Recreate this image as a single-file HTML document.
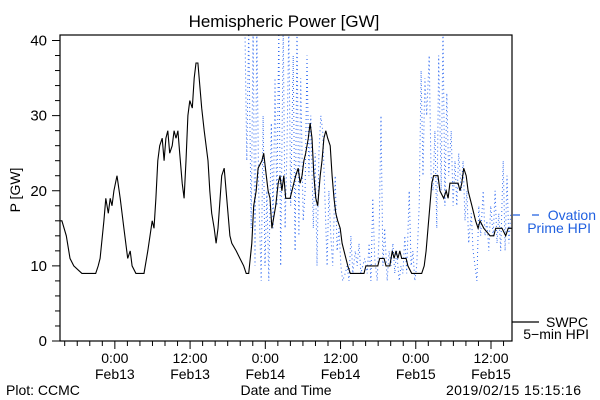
<!DOCTYPE html>
<html><head><meta charset="utf-8"><style>
body{margin:0;background:#fff}
svg{display:block;font-family:"Liberation Sans","DejaVu Sans",sans-serif}
</style></head><body>
<svg id="chart" width="600" height="400" viewBox="0 0 600 400">
<defs><clipPath id="clip"><rect x="60" y="35" width="452" height="306"/></clipPath></defs>
<rect width="600" height="400" fill="#fff"/>
<text x="284" y="27" font-size="17" text-anchor="middle">Hemispheric Power [GW]</text>
<text transform="translate(20,190) rotate(-90)" font-size="14" text-anchor="middle">P [GW]</text>
<text x="286" y="395" font-size="14" text-anchor="middle">Date and Time</text>
<text x="6" y="395" font-size="14">Plot: CCMC</text>
<text x="581" y="395" font-size="14" text-anchor="end" textLength="135">2019/02/15 15:15:16</text>
<g id="axes"></g>
<g id="series" clip-path="url(#clip)"></g>
<rect x="60" y="35" width="452" height="306" fill="none" stroke="#000" stroke-width="1.2"/>
<g>
<line x1="513" y1="215" x2="539" y2="215" stroke="#2060e0" stroke-dasharray="7,12" stroke-width="1.2"/>
<text x="596" y="220" font-size="14" fill="#2060e0" text-anchor="end">Ovation</text>
<text x="591" y="233" font-size="14" fill="#2060e0" text-anchor="end">Prime HPI</text>
</g>
<g>
<line x1="512" y1="322" x2="539" y2="322" stroke="#000" stroke-width="1.2"/>
<text x="588" y="327" font-size="14" text-anchor="end">SWPC</text>
<text x="589" y="339" font-size="14" text-anchor="end">5−min HPI</text>
</g>
</svg>
<script>
const yTicks=[0,10,20,30,40];
const xTickHours=[8.75,20.75,32.75,44.75,56.75,68.75];
const xTickTop=["0:00","12:00","0:00","12:00","0:00","12:00"];
const xTickBottom=["Feb13","Feb13","Feb14","Feb14","Feb15","Feb15"];
const swpcTimes=[0,0.3,1.0,1.6,2.2,3.5,5.7,6.1,6.4,7.0,7.3,7.7,8.0,8.3,8.6,9.1,9.6,10.2,10.8,11.2,11.5,12.1,13.4,14.0,14.7,15.0,15.3,15.6,15.9,16.3,16.6,16.9,17.2,17.5,17.9,18.2,18.5,18.8,19.1,19.5,19.8,20.1,20.4,20.7,21.1,21.4,21.7,22.0,22.3,22.6,23.0,23.3,23.6,23.9,24.2,24.6,24.9,25.2,25.8,26.2,26.5,26.8,27.1,27.4,28.1,28.7,29.3,29.7,30.1,30.6,30.9,31.3,31.6,32.2,32.5,32.9,33.2,33.5,33.8,34.4,34.8,35.1,35.4,35.7,36.0,36.7,37.0,37.3,37.6,38.0,38.3,38.6,38.9,39.2,39.6,39.9,40.2,40.5,40.8,41.1,41.5,41.8,42.1,42.4,42.7,43.1,43.4,43.7,44.0,44.3,44.7,45.0,45.3,45.6,45.9,46.3,48.5,48.8,50.7,51.0,51.7,52.0,52.6,53.0,53.3,53.6,53.9,54.2,54.5,55.2,55.5,56.1,57.7,58.1,58.4,58.7,59.0,59.3,59.6,60.3,60.6,61.2,61.6,61.9,62.2,62.8,63.5,63.8,64.1,64.4,64.8,65.1,65.4,65.7,66.3,66.7,67.0,67.6,68.6,69.2,69.5,70.5,71.1,71.5,72.1];
const swpcValues=[16,16,14,11,10,9,9,10,11,16,19,17,19,18,20,22,19,15,11,12,10,9,9,12,16,15,19,24,26,27,24,27,28,25,26,28,27,28,25,21,19,24,30,32,31,35,37,37,34,31,28,26,24,20,17,15,13,15,22,23,20,17,14,13,12,11,10,9,9,13,18,20,23,24,25,22,20,19,15,18,21,22,20,22,19,19,20,21,22,23,21,22,24,25,27,29,27,22,19,18,22,24,27,28,27,26,22,19,17,16,15,13,12,11,10,9,9,10,10,11,11,10,10,12,11,12,11,12,11,11,10,9,9,10,12,15,18,21,22,22,20,19,20,19,21,21,21,20,21,23,22,20,19,18,16,15,16,15,14,14,15,15,14,15,15];
const ovationTimes=[29.5,29.8,30.1,30.5,30.8,31.1,31.4,31.7,32.1,32.4,32.7,33.0,33.3,33.7,34.0,34.3,34.6,34.9,35.2,35.6,35.9,36.2,36.5,36.8,37.2,37.5,37.8,38.1,38.4,38.8,39.1,39.4,39.7,40.0,40.4,40.7,41.0,41.3,41.6,41.9,42.3,42.6,42.9,43.2,43.5,43.9,44.2,44.5,44.8,45.1,45.5,45.8,46.1,46.4,46.7,47.1,47.4,47.7,48.0,48.3,48.6,49.0,49.3,49.6,49.9,50.2,50.6,50.9,51.2,51.5,51.8,52.2,52.5,52.8,53.1,53.4,53.7,54.1,54.4,54.7,55.0,55.3,55.7,56.0,56.3,56.6,56.9,57.3,57.6,57.9,58.2,58.5,58.9,59.2,59.5,59.8,60.1,60.4,60.8,61.1,61.4,61.7,62.0,62.4,62.7,63.0,63.3,63.6,64.0,64.3,64.6,64.9,65.2,65.6,65.9,66.2,66.5,66.8,67.1,67.5,67.8,68.1,68.4,68.7,69.1,69.4,69.7,70.0,70.3,70.7,71.0,71.3,71.6,71.9];
const ovationValues=[42,24,42,15,42,10,42,20,8,30,10,20,8,29,15,35,18,42,10,42,15,25,42,18,38,12,42,14,35,16,20,38,22,30,15,25,10,25,30,28,18,10,20,14,10,22,12,15,10,8,9,10,8,14,9,12,10,13,9,10,11,9,13,8,19,11,8,14,30,10,15,8,12,10,13,9,12,8,10,9,14,9,20,10,12,8,10,18,36,22,35,30,38,22,20,28,15,38,20,42,18,33,22,28,18,24,18,25,20,24,16,20,13,17,12,10,8,18,14,20,14,16,12,18,14,20,13,17,12,24,12,22,13,17];
const NS="http://www.w3.org/2000/svg";
const X0=60,X1=512,T0=0,T1=72.1,Y0=341,Y1=40.5;
function xs(t){return X0+(t-T0)/(T1-T0)*(X1-X0);}
function ys(v){return Y0+(v-0)/(40-0)*(Y1-Y0);}
function mk(tag,attrs,parent){const e=document.createElementNS(NS,tag);for(const k in attrs)e.setAttribute(k,attrs[k]);parent.appendChild(e);return e;}
const axes=document.getElementById('axes');
for(let v=0;v<=40;v+=2){
  const major=v%10===0;
  const l=mk('line',{x1:major?52:55,x2:60,y1:ys(v),y2:ys(v),stroke:'#000'},axes);
  
  
}
yTicks.forEach(v=>{
  const t=mk('text',{x:47,y:ys(v)+5,'font-size':15,'text-anchor':'end'},axes);
  t.textContent=v;
  
  
});
for(let h=0.75;h<72;h+=2){
  const major=xTickHours.includes(h);
  const l=mk('line',{x1:xs(h),x2:xs(h),y1:341,y2:major?349:346,stroke:'#000'},axes);
  
  
}
xTickHours.forEach((h,i)=>{
  const a=mk('text',{x:xs(h),y:363,'font-size':14,'text-anchor':'middle'},axes);
  a.textContent=xTickTop[i];
  
  
  const b=mk('text',{x:xs(h),y:379,'font-size':14,'text-anchor':'middle'},axes);
  b.textContent=xTickBottom[i];
  
  
});
const series=document.getElementById('series');
function pts(ts,vs){const n=Math.min(ts.length,vs.length);let s=[];for(let i=0;i<n;i++)s.push(xs(ts[i]).toFixed(1)+','+ys(vs[i]).toFixed(1));return s.join(' ');}
const ov=mk('polyline',{points:pts(ovationTimes,ovationValues),fill:'none',stroke:'#2a66f0','stroke-width':1,'stroke-dasharray':'1,3'},series);


const sw=mk('polyline',{points:pts(swpcTimes,swpcValues),fill:'none',stroke:'#000','stroke-width':1.1},series);


</script>
</body></html>
